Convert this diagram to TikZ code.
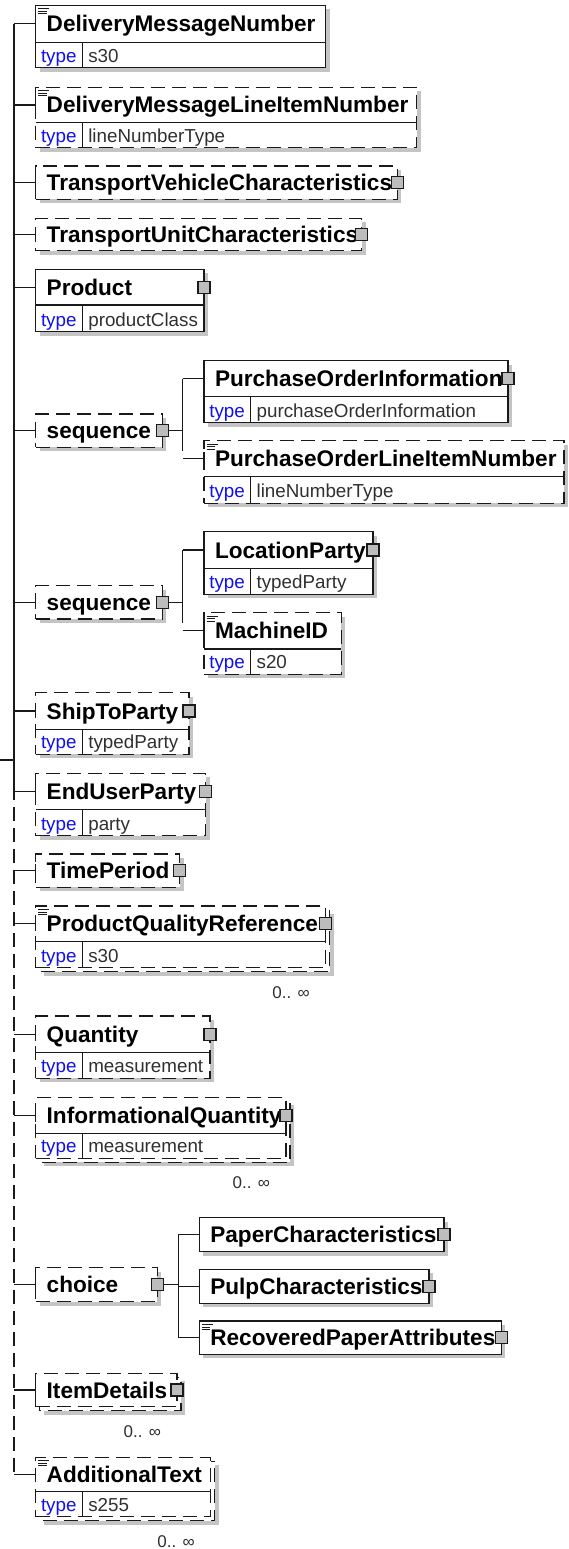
\documentclass[tikz,border=0pt]{standalone}
\usepackage{fontspec}
\setmainfont{Liberation Sans}
\usetikzlibrary{calc}
\definecolor{shadowc}{HTML}{C4C4C4}
\definecolor{typeblue}{HTML}{1010F0}
\definecolor{valc}{HTML}{303030}
\definecolor{edge}{HTML}{1A1A1A}
\definecolor{sqfill}{HTML}{BDBDBD}
\tikzset{
 box/.style={draw=edge, line width=1.2pt, fill=white, inner sep=0pt, outer sep=0pt},
 dashbox/.style={box, dash pattern=on 14pt off 7pt},
 conn/.style={draw=edge, line width=1.2pt},
 dconn/.style={conn, dash pattern=on 14pt off 7pt},
 nametext/.style={inner sep=0pt, outer sep=0pt, font=\fontsize{22.6}{26}\selectfont\bfseries, text=black},
 typetext/.style={inner sep=0pt, outer sep=0pt, font=\fontsize{18.8}{22}\selectfont, text=typeblue},
 valtext/.style={inner sep=0pt, outer sep=0pt, font=\fontsize{18.8}{22}\selectfont, text=valc},
 occtext/.style={inner sep=0pt, outer sep=0pt, font=\fontsize{17}{20}\selectfont, text=valc},
 expsq/.style={draw=edge, line width=1.2pt, fill=sqfill, minimum size=12pt, inner sep=0pt, outer sep=0pt},
}
\newif\ifshad \shadtrue
% #1 name, #2 style, #3 x1, #4 y1, #5 x2, #6 header bottom, #7 bottom, #8 text, #9 type
\newcommand\Elem[9]{%
 \pgfmathsetmacro\elW{#5-#3}%
 \pgfmathsetmacro\elH{#7-#4}%
 \pgfmathsetmacro\elHh{(#6-#4)/2}%
 \ifshad\fill[shadowc] (#3+4,#4+4) rectangle (#5+4,#7+4);\fi
 \node[#2,anchor=north west,minimum width=\elW pt,minimum height=\elH pt] (#1) at (#3,#4) {};
 \coordinate (#1C) at ([yshift=-\elHh pt]#1.north west);
 \draw[conn] ([yshift=7pt]#1C) -- ([yshift=-7pt]#1C);
 \node[nametext,anchor=base west] (#1N) at ([xshift=11pt,yshift=-8pt]#1C) {#8};
 \if\relax\detokenize{#9}\relax\else
  \draw[conn] (#3,#6) -- (#5,#6);
  \draw[conn] (#3+46.6,#6) -- (#3+46.6,#7);
  \node[typetext,anchor=base west] (#1T) at (#3+5.3,#7-5.5) {type};
  \node[valtext,anchor=base west] (#1V) at (#3+52.6,#7-5.5) {#9};
 \fi
 \global\shadtrue
}
\newcommand\Multi[4]{%
 \fill[shadowc] (#1+8,#2+8) rectangle (#3+8,#4+8);
 \draw[dashbox] (#1+4,#2+4) rectangle (#3+4,#4+4);
 \global\shadfalse
}
\newcommand\Doc[1]{%
 \draw[edge, line width=0.9pt] ([xshift=2.5pt,yshift=-3.5pt]#1.north west) -- ++(11pt,0pt)
   ([xshift=2.5pt,yshift=-6pt]#1.north west) -- ++(8.5pt,0pt)
   ([xshift=2.5pt,yshift=-8.5pt]#1.north west) -- ++(8.5pt,0pt);
}
\newcommand\Exp[1]{\node[expsq] (#1X) at (#1.east |- #1C) {};}
\newcommand\Occ[1]{\node[occtext,anchor=base east] (#1O) at ([xshift=-16pt,yshift=-30.5pt]#1.south east) {0.. ∞};}
\newcommand\Link[2]{\draw[conn] (#1 |- #2C) -- (#2C);}

\begin{document}
\begin{tikzpicture}[x=1pt,y=-1pt]
\useasboundingbox[fill=white] (0,0) rectangle (568,1549);
\coordinate (trunk) at (14,0);
\coordinate (root) at (0,760);
\coordinate (s1v) at (182.7,0);
\coordinate (s2v) at (182.7,0);
\coordinate (chv) at (178.3,0);

\Elem{dmn}{box}{35.7}{5.3}{325.7}{42.3}{67.7}{DeliveryMessageNumber}{s30}\Doc{dmn}
\Elem{dml}{dashbox}{35.7}{87.3}{416.7}{122.7}{147.7}{DeliveryMessageLineItemNumber}{lineNumberType}\Doc{dml}
\Elem{tvc}{dashbox}{35.7}{166}{397.3}{199.3}{199.3}{TransportVehicleCharacteristics}{}\Exp{tvc}
\Elem{tuc}{dashbox}{35.7}{218.3}{361.7}{250.7}{250.7}{TransportUnitCharacteristics}{}\Exp{tuc}
\Elem{prd}{box}{35.7}{269.3}{204}{305}{331.7}{Product}{productClass}\Exp{prd}
\Elem{sqa}{dashbox}{35.7}{414}{162.3}{447.3}{447.3}{sequence}{}\Exp{sqa}
\Elem{poi}{box}{204}{360.7}{508}{396.7}{422.7}{PurchaseOrderInformation}{purchaseOrderInformation}\Exp{poi}
\Elem{pol}{dashbox}{204}{440.7}{564}{476.7}{503.3}{PurchaseOrderLineItemNumber}{lineNumberType}\Doc{pol}
\Elem{sqb}{dashbox}{35.7}{585.7}{162.3}{619}{619}{sequence}{}\Exp{sqb}
\Elem{lop}{box}{204}{531.7}{373}{568.3}{594.3}{LocationParty}{typedParty}\Exp{lop}
\Elem{mid}{dashbox}{204}{612.7}{341.3}{649}{674.3}{MachineID}{s20}\Doc{mid}
\Elem{stp}{dashbox}{35.7}{692.7}{189}{729.3}{754.3}{ShipToParty}{typedParty}\Exp{stp}
\Elem{eup}{dashbox}{35.7}{773.3}{205.7}{809.3}{835.7}{EndUserParty}{party}\Exp{eup}
\Elem{tpr}{dashbox}{35.7}{854}{179.5}{887.3}{887.3}{TimePeriod}{}\Exp{tpr}
\Multi{35.7}{906}{325.7}{967.7}
\Elem{pqr}{dashbox}{35.7}{906}{325.7}{941.7}{967.7}{ProductQualityReference}{s30}\Doc{pqr}\Exp{pqr}\Occ{pqr}
\Elem{qty}{dashbox}{35.7}{1016}{210}{1052.7}{1078.3}{Quantity}{measurement}\Exp{qty}
\Multi{35.7}{1097.3}{286}{1158.3}
\Elem{inq}{dashbox}{35.7}{1097.3}{286}{1133.3}{1158.3}{InformationalQuantity}{measurement}\Exp{inq}\Occ{inq}
\Elem{cho}{dashbox}{35.7}{1267.7}{157.3}{1301.7}{1301.7}{choice}{}\Exp{cho}
\Elem{pac}{box}{199.3}{1217.7}{444}{1251.7}{1251.7}{PaperCharacteristics}{}\Exp{pac}
\Elem{puc}{box}{199.3}{1269.3}{429}{1303.3}{1303.3}{PulpCharacteristics}{}\Exp{puc}
\Elem{rpa}{box}{199.3}{1321}{501.3}{1354.3}{1354.3}{RecoveredPaperAttributes}{}\Doc{rpa}\Exp{rpa}
\Multi{35.7}{1373.3}{177}{1406.7}
\Elem{itd}{dashbox}{35.7}{1373.3}{177}{1406.7}{1406.7}{ItemDetails}{}\Exp{itd}\Occ{itd}
\Multi{35.7}{1457.3}{210.7}{1516.7}
\Elem{adt}{dashbox}{35.7}{1457.3}{210.7}{1491.7}{1516.7}{AdditionalText}{s255}\Doc{adt}\Occ{adt}

% main trunk
\draw[conn] (root) -- (root -| trunk);
\draw[conn] (trunk |- dmnC) -- (trunk |- 0,786);
\draw[dconn] (trunk |- 0,786) -- (trunk |- adtC);
\foreach \n in {dmn,dml,tvc,tuc,prd,sqa,sqb,stp,eup,tpr,pqr,qty,inq,cho,itd,adt}{\Link{trunk}{\n}}

% first sequence
\draw[conn] (sqaX.east) -- (sqaX.east -| s1v);
\draw[conn] (s1v |- poiC) -- (s1v |- 0,451);
\Link{s1v}{poi}
\Link{s1v}{pol}
% second sequence
\draw[conn] (sqbX.east) -- (sqbX.east -| s2v);
\draw[conn] (s2v |- lopC) -- (s2v |- 0,623);
\Link{s2v}{lop}
\Link{s2v}{mid}
% choice
\draw[conn] (choX.east) -- (choX.east -| chv);
\draw[conn] (chv |- pacC) -- (chv |- rpaC);
\Link{chv}{pac}
\Link{chv}{puc}
\Link{chv}{rpa}
\end{tikzpicture}
\end{document}
